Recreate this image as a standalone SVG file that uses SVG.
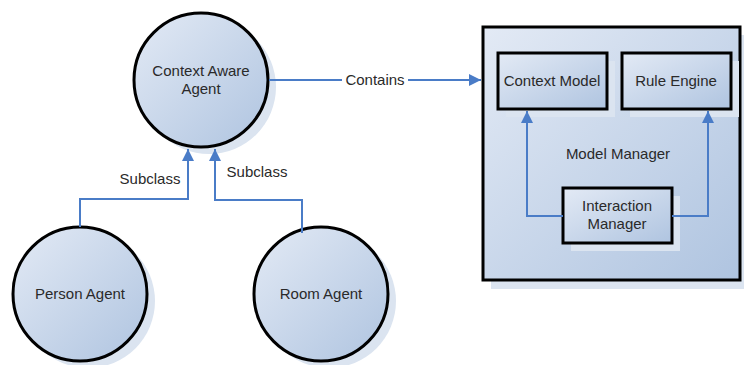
<svg xmlns="http://www.w3.org/2000/svg" width="744" height="365" viewBox="0 0 744 365">
<defs>
<linearGradient id="g" x1="0" y1="0" x2="1" y2="1">
<stop offset="0" stop-color="#e3eaf5"/>
<stop offset="1" stop-color="#afc4e0"/>
</linearGradient>
<marker id="arr" markerWidth="12" markerHeight="12" refX="10" refY="5" orient="auto" markerUnits="userSpaceOnUse" viewBox="0 0 10 10">
<path d="M0,0 L10,5 L0,10 z" fill="#4a7cc7"/>
</marker>
<style>
.shadow{fill:#dbe4f0;stroke:none}
.node{fill:url(#g);stroke:#000;stroke-width:3}
.t{font-family:"Liberation Sans",Arial,sans-serif;font-size:15px;fill:#2a2a2a;text-anchor:middle}
.c{fill:none;stroke:#4a7cc7;stroke-width:2;marker-end:url(#arr)}
</style>
</defs>
<rect width="744" height="365" fill="#fff"/>
<g id="model-manager">
<rect class="shadow" x="491" y="35" width="253" height="254"/>
<rect class="node" x="483" y="27" width="257" height="253"/>
<text class="t" x="618" y="159">Model Manager</text>
</g>
<g id="context-aware-agent">
<circle class="shadow" cx="209" cy="87" r="67"/>
<circle class="node" cx="201" cy="80" r="67"/>
<text class="t" x="201" y="76">Context Aware</text>
<text class="t" x="201" y="94">Agent</text>
</g>
<g id="person-agent">
<circle class="shadow" cx="88" cy="301" r="67"/>
<circle class="node" cx="80" cy="294" r="67"/>
<text class="t" x="80" y="299">Person Agent</text>
</g>
<g id="room-agent">
<circle class="shadow" cx="329" cy="301" r="67"/>
<circle class="node" cx="321" cy="294" r="67"/>
<text class="t" x="321" y="299">Room Agent</text>
</g>
<g id="context-model">
<rect class="shadow" x="506" y="61" width="109" height="56"/>
<rect class="node" x="498" y="53" width="109" height="56"/>
<text class="t" x="552" y="86">Context Model</text>
</g>
<g id="rule-engine">
<rect class="shadow" x="630" y="61" width="109" height="56"/>
<rect class="node" x="622" y="53" width="109" height="56"/>
<text class="t" x="676" y="86">Rule Engine</text>
</g>
<g id="interaction-manager">
<rect class="shadow" x="571" y="196" width="109" height="55"/>
<rect class="node" x="563" y="188" width="109" height="55"/>
<text class="t" x="617" y="211">Interaction</text>
<text class="t" x="617" y="229">Manager</text>
</g>
<g id="connectors">
<path class="c" d="M80,227 V199 H188 V149"/>
<path class="c" d="M302,233 V200 H215 V149"/>
<path class="c" d="M269,80 H481"/>
<path class="c" d="M563,216 H527 V111"/>
<path class="c" d="M672,216 H708 V111"/>
<rect x="342" y="71" width="66" height="18" fill="#fff"/>
<text class="t" x="375" y="85">Contains</text>
<text class="t" x="150" y="184">Subclass</text>
<text class="t" x="257" y="177">Subclass</text>
</g>
</svg>
